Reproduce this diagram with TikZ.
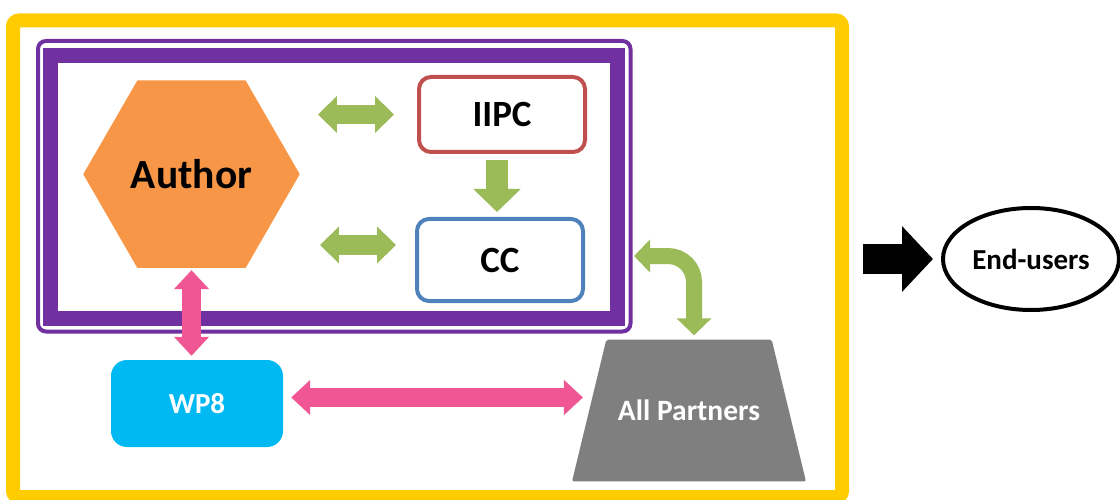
\documentclass[tikz,border=0pt]{standalone}
\usepackage{fontspec}
\setmainfont{Carlito}
\usetikzlibrary{shapes.geometric,arrows.meta}
\definecolor{frameyellow}{HTML}{FFCC00}
\definecolor{teampurple}{HTML}{7030A0}
\definecolor{authororange}{HTML}{F79646}
\definecolor{iipcred}{HTML}{C0504D}
\definecolor{ccblue}{HTML}{4F81BD}
\definecolor{wpcyan}{HTML}{00B9F2}
\definecolor{arrowgreen}{HTML}{9BBB59}
\definecolor{arrowpink}{HTML}{F05594}
\definecolor{partnergray}{HTML}{7F7F7F}

\begin{document}
\begin{tikzpicture}[x=1pt,y=1pt,
  box/.style={rounded corners=12pt, line width=4pt, minimum width=166pt, font=\fontsize{37}{40}\selectfont\bfseries},
  garrow/.style={arrowgreen, line width=19pt, {Triangle[length=19pt,width=36pt]}-{Triangle[length=19pt,width=36pt]}},
  parrow/.style={arrowpink, line width=19pt, {Triangle[length=19pt,width=34pt]}-{Triangle[length=19pt,width=34pt]}}]
\useasboundingbox (0,0) rectangle (1120,499);
% frames
\node [draw=frameyellow, line width=14pt, rounded corners=6pt, minimum width=829pt, minimum height=476.5pt] (project) at (427.5,240.25) {};
\node [draw=teampurple, line width=4pt, rounded corners=8pt, minimum width=592.5pt, minimum height=290.5pt] (outer) at (334.25,312.75) {};
\node [draw=teampurple, line width=15pt, minimum width=567pt, minimum height=263pt] (inner) at (334,312) {};
% nodes
\node [regular polygon, regular polygon sides=6, minimum size=216.5pt, inner sep=0pt, fill=authororange, font=\fontsize{41.5}{46}\selectfont\bfseries] (author) at (191.5,324.8) {Author};
\node [box, draw=iipcred, minimum height=75pt] (iipc) at (502,384.5) {IIPC};
\node [box, draw=ccblue, minimum height=82pt] (cc) at (500,239) {CC};
\node [fill=wpcyan, rounded corners=16pt, minimum width=172pt, minimum height=87pt, text=white, font=\fontsize{29}{32}\selectfont\bfseries] (wp8) at (197,95.5) {WP8};
\node [trapezium, trapezium left angle=76.4, trapezium right angle=76.4, trapezium stretches body=true, inner ysep=60.5pt, minimum width=234pt, rounded corners=2pt, fill=partnergray, text=white, font=\fontsize{29.5}{32}\selectfont\bfseries] (allp) at (689,88.5) {All Partners};
\node [ellipse, draw, line width=4pt, minimum width=176pt, minimum height=102pt, font=\fontsize{29}{32}\selectfont\bfseries] (users) at (1031,240) {End-users};
% arrows
\draw [garrow, shorten <=18pt, shorten >=23pt] (author.east |- iipc.west) -- (iipc.west);
\draw [garrow, shorten <=20pt, shorten >=19pt] ([yshift=15pt]author.east |- cc.west) -- ([yshift=15pt]cc.west);
\draw [arrowgreen, line width=22pt, -{Triangle[length=23pt,width=46pt]}, shorten <=6pt, shorten >=5pt] ([xshift=-5pt]iipc.south) -- ([xshift=-5pt]iipc.south |- cc.north);
\draw [arrowgreen, line width=16pt, rounded corners=26pt, {Triangle[length=16pt,width=32pt]}-{Triangle[length=17pt,width=34pt]}, shorten <=1.5pt, shorten >=4pt] ([yshift=4pt]cc.east -| outer.east) -| ([xshift=5pt]allp.north);
\draw [parrow, shorten <=2pt, shorten >=4pt] (author.south) -- (author.south |- wp8.north);
\draw [parrow, shorten <=8pt, shorten >=6pt] ([yshift=6pt]wp8.east) -- ([yshift=6pt]wp8.east -| allp.west);
\draw [line width=30pt, -{Triangle[length=31pt,width=64pt]}, shorten <=14pt, shorten >=8pt] (project.east |- users.west) -- (users.west);
\end{tikzpicture}
\end{document}
